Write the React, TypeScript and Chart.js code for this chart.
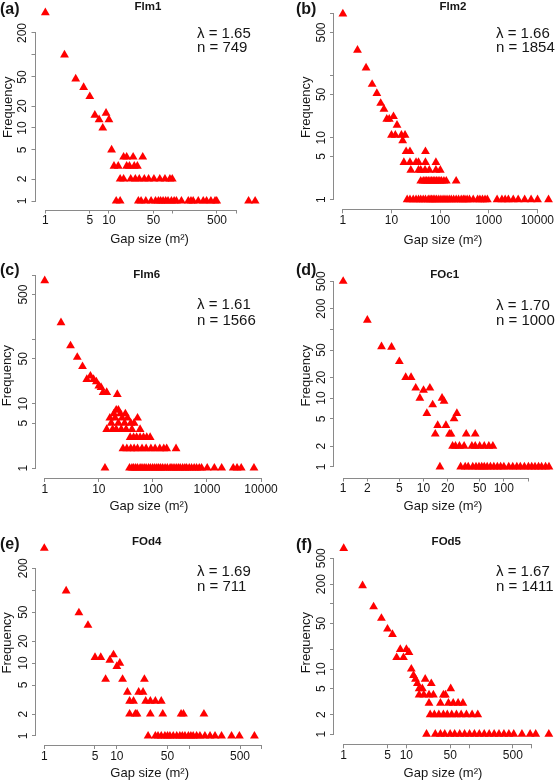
import React, { useEffect, useRef } from 'react';
import { Chart, registerables } from 'chart.js';

Chart.register(...registerables);

const FONT = "'Liberation Sans', Arial, Helvetica, sans-serif";
Chart.defaults.font.family = FONT;
const RED = '#ff0000';
const AXIS = '#8a8a8a';
const INK = '#151515';

// ---------- (a) Flm1 ----------
const flm1Size = [1, 2, 3, 4, 5, 6, 7, 8, 9, 10, 11,
  17, 19, 24, 34,
  12, 14, 19, 21, 25, 28,
  15, 17, 22, 26, 30, 36, 42, 51, 63, 76, 91, 99,
  13, 15, 29, 32, 38, 46, 54, 60, 65, 71, 78, 85, 96, 106, 115, 138, 177, 195, 211, 254, 304, 343, 401, 466, 495, 1570, 1990];
const flm1Freq = [380, 100, 47, 36, 27, 15, 13, 10, 16, 13, 5,
  4, 4, 4, 4,
  3, 3, 3, 3, 3, 3,
  2, 2, 2, 2, 2, 2, 2, 2, 2, 2, 2, 2,
  1, 1, 1, 1, 1, 1, 1, 1, 1, 1, 1, 1, 1, 1, 1, 1, 1, 1, 1, 1, 1, 1, 1, 1, 1, 1, 1];

// ---------- (b) Flm2 ----------
const flm2Size = [1, 2, 3, 4, 5, 6, 7, 8, 9, 11, 10, 12, 13, 16, 19, 17,
  20, 24, 50,
  18, 24, 32, 36, 50, 82,
  25, 36, 40, 49, 60, 82, 101,
  40, 45, 49, 53, 57, 62, 67, 72, 78, 84, 91, 99, 107, 120, 134, 214,
  21, 24, 28, 32, 36, 40, 45, 50, 57, 62, 67, 72, 78, 85, 94, 104, 115, 126, 139, 154, 170, 190, 214, 240, 272,
  300, 325, 360, 402, 480, 592, 660, 745, 840, 937, 1487, 1870, 2180, 2540, 3200, 4040, 5490, 7450, 10100, 17000];
const flm2Freq = [1000, 259, 134, 73, 52, 36, 29, 20, 20, 22, 11, 11, 16, 11, 11, 9,
  6, 6, 6,
  4, 4, 4, 4, 4, 4,
  3, 3, 3, 3, 3, 3, 3,
  2, 2, 2, 2, 2, 2, 2, 2, 2, 2, 2, 2, 2, 2, 2, 2,
  1, 1, 1, 1, 1, 1, 1, 1, 1, 1, 1, 1, 1, 1, 1, 1, 1, 1, 1, 1, 1, 1, 1, 1, 1,
  1, 1, 1, 1, 1, 1, 1, 1, 1, 1, 1, 1, 1, 1, 1, 1, 1, 1, 1, 1];

// ---------- (c) Flm6 ----------
const flm6Size = [1, 2, 3, 4, 5, 6, 7, 8, 9, 10, 11, 12, 14, 22,
  21, 23,
  19, 25, 31,
  16, 20, 27, 34, 52,
  17, 23, 30, 39, 45,
  14, 18, 21, 26, 32, 41, 58,
  38, 44, 50, 58, 67, 77, 89,
  28, 33, 39, 45, 52, 63, 75, 92, 110, 134, 159, 180, 268,
  13, 37, 41, 44, 48, 52, 58, 63, 69, 75, 83, 90, 99, 108, 118, 128, 139, 152, 168, 185, 208,
  225, 246, 270, 295, 320, 355, 390, 421, 470, 519, 580, 642, 720, 794, 1010, 1370, 1870, 3060, 3600, 4300, 7390];
const flm6Freq = [822, 183, 80, 53, 38, 24, 27, 24, 22, 19, 18, 15, 15, 14,
  8, 8,
  7, 7, 7,
  6, 6, 6, 6, 6,
  5, 5, 5, 5, 5,
  4, 4, 4, 4, 4, 4, 4,
  3, 3, 3, 3, 3, 3, 3,
  2, 2, 2, 2, 2, 2, 2, 2, 2, 2, 2, 2, 2,
  1, 1, 1, 1, 1, 1, 1, 1, 1, 1, 1, 1, 1, 1, 1, 1, 1, 1, 1, 1, 1,
  1, 1, 1, 1, 1, 1, 1, 1, 1, 1, 1, 1, 1, 1, 1, 1, 1, 1, 1, 1, 1];

// ---------- (d) FOc1 ----------
const foc1Size = [1, 2, 3, 4, 5, 6, 7, 8, 9, 10, 12, 11, 13, 14, 15, 17, 18, 19, 21, 22, 24, 26, 34, 44,
  23, 25, 28, 32, 40, 44, 50, 57, 65, 73,
  16, 29, 33, 36, 41, 45, 49, 53, 57, 62, 68, 75, 83, 91, 100, 115, 129, 145, 160, 180, 202, 222, 244, 270, 295, 330, 364];
const foc1Freq = [500, 136, 56, 55, 34, 20, 20, 14, 10, 13, 14, 6, 8, 3, 4, 10, 9, 4, 3, 3, 5, 6, 3, 3,
  2, 2, 2, 2, 2, 2, 2, 2, 2, 2,
  1, 1, 1, 1, 1, 1, 1, 1, 1, 1, 1, 1, 1, 1, 1, 1, 1, 1, 1, 1, 1, 1, 1, 1, 1, 1, 1];

// ---------- (e) FOd4 ----------
const fod4Size = [1, 2, 3, 4, 5, 6, 7, 8, 9, 10, 11, 12,
  14, 15, 17, 20, 23, 24, 25, 29, 34, 41,
  15, 18, 19, 29, 43, 77, 83, 159,
  27, 34, 37, 41, 46, 50, 54, 60, 67, 74, 80, 87, 97, 105, 113, 126, 140, 164, 193, 226, 278, 382, 490, 790];
const fod4Freq = [376, 98, 49, 33, 12, 12, 6, 11, 13, 9, 10, 6,
  4, 3, 3, 4, 4, 6, 3, 3, 3, 3,
  2, 2, 2, 2, 2, 2, 2, 2,
  1, 1, 1, 1, 1, 1, 1, 1, 1, 1, 1, 1, 1, 1, 1, 1, 1, 1, 1, 1, 1, 1, 1, 1];

// ---------- (f) FOd5 ----------
const fod5Size = [1, 2, 3, 4, 5, 6, 7, 8, 9, 10, 11, 12, 13, 14, 15,
  16, 18, 16, 19, 20, 23, 25, 27, 23, 35, 39, 42, 51, 47, 56, 67, 80,
  24, 28, 33, 39, 45, 53, 63, 75, 91, 112, 138,
  21, 29, 35, 41, 50, 59, 71, 85, 102, 122, 146, 175, 210, 252, 301, 361, 433, 518, 700, 946, 1161, 1880];
const fod5Freq = [710, 190, 90, 60, 41, 34, 15, 20, 15, 20, 18, 10, 8, 7, 6,
  5, 5, 4, 4, 7, 4, 6, 4, 3, 3, 4, 4, 5, 3, 3, 3, 3,
  2, 2, 2, 2, 2, 2, 2, 2, 2, 2, 2,
  1, 1, 1, 1, 1, 1, 1, 1, 1, 1, 1, 1, 1, 1, 1, 1, 1, 1, 1, 1, 1, 1];

// ---------- tick values / labels ----------
const xTicksA = [1, 5, 10, 50, 100, 500, 1000];
const xLabelsA = [1, 5, 10, 50, 500];
const yTicksA = [1, 2, 5, 10, 20, 50, 100, 200];
const yLabelsA = [1, 2, 5, 10, 20, 50, 200];
const xTicksB = [1, 10, 100, 1000, 10000];
const xLabelsB = [1, 10, 100, 1000, 10000];
const yTicksB = [1, 5, 10, 50, 100, 500, 1000];
const yLabelsB = [1, 5, 10, 50, 500];
const xTicksC = [1, 10, 100, 1000, 10000];
const xLabelsC = [1, 10, 100, 1000, 10000];
const yTicksC = [1, 5, 10, 50, 100, 500, 1000];
const yLabelsC = [1, 5, 10, 50, 500];
const xTicksD = [1, 2, 5, 10, 20, 50, 100, 200];
const xLabelsD = [1, 2, 5, 10, 20, 50, 100];
const yTicksD = [1, 2, 5, 10, 20, 50, 100, 200, 500];
const yLabelsD = [1, 2, 5, 10, 20, 50, 200, 500];
const xTicksE = [1, 5, 10, 50, 100, 500, 1000];
const xLabelsE = [1, 5, 10, 50, 500];
const yTicksE = [1, 2, 5, 10, 20, 50, 100, 200];
const yLabelsE = [1, 2, 5, 10, 20, 50, 200];
const xTicksF = [1, 5, 10, 50, 100, 500, 1000];
const xLabelsF = [1, 5, 10, 50, 500];
const yTicksF = [1, 2, 5, 10, 20, 50, 100, 200, 500];
const yLabelsF = [1, 2, 5, 10, 50, 200, 500];

const panelTitles = ['Flm1', 'Flm2', 'Flm6', 'FOc1', 'FOd4', 'FOd5'];
const panelLetters = ['(a)', '(b)', '(c)', '(d)', '(e)', '(f)'];
const lambdas = ['1.65', '1.66', '1.61', '1.70', '1.69', '1.67'];
const counts = ['749', '1854', '1566', '1000', '711', '1411'];

type Panel = {
  sizes: number[]; freqs: number[];
  xTicks: number[]; xLabels: number[]; yTicks: number[]; yLabels: number[];
  xMin: number; xMax: number; yMin: number; yMax: number;
  canvas: { x: number; y: number; w: number; h: number };
  plot: { l: number; t: number; r: number; b: number };
  letterPos: [number, number]; titlePos: [number, number]; statsPos: [number, number, number];
  yTitleX: number; xTitleY: number;
};

const PANELS: Panel[] = [
  {
    sizes: flm1Size, freqs: flm1Freq, xTicks: xTicksA, xLabels: xLabelsA, yTicks: yTicksA, yLabels: yLabelsA,
    xMin: 0.738, xMax: 2704, yMin: 0.765, yMax: 482,
    canvas: { x: 0, y: 0, w: 278, h: 258 }, plot: { l: 35.5, t: 5.1, r: 263.6, b: 209.5 },
    letterPos: [0, 10], titlePos: [148, 7], statsPos: [197, 33.5, 47.7], yTitleX: 8, xTitleY: 239.5,
  },
  {
    sizes: flm2Size, freqs: flm2Freq, xTicks: xTicksB, xLabels: xLabelsB, yTicks: yTicksB, yLabels: yLabelsB,
    xMin: 0.657, xMax: 19950, yMin: 0.737, yMax: 1384,
    canvas: { x: 278, y: 0, w: 279, h: 258 }, plot: { l: 334, t: 4, r: 555, b: 209.3 },
    letterPos: [296, 10], titlePos: [453, 7], statsPos: [496, 33.5, 47.7], yTitleX: 306.3, xTitleY: 240,
  },
  {
    sizes: flm6Size, freqs: flm6Freq, xTicks: xTicksC, xLabels: xLabelsC, yTicks: yTicksC, yLabels: yLabelsC,
    xMin: 0.69, xMax: 10280, yMin: 0.745, yMax: 1076,
    canvas: { x: 0, y: 258, w: 278, h: 262 }, plot: { l: 36, t: 273.2, r: 261.7, b: 478 },
    letterPos: [0, 271], titlePos: [146.7, 274.7], statsPos: [197, 305, 320.7], yTitleX: 7.5, xTitleY: 506.3,
  },
  {
    sizes: foc1Size, freqs: foc1Freq, xTicks: xTicksD, xLabels: xLabelsD, yTicks: yTicksD, yLabels: yLabelsD,
    xMin: 0.769, xMax: 396, yMin: 0.747, yMax: 641,
    canvas: { x: 278, y: 258, w: 279, h: 262 }, plot: { l: 334, t: 273.9, r: 555, b: 477.5 },
    letterPos: [296, 271], titlePos: [444.7, 274.7], statsPos: [496, 306.3, 321.3], yTitleX: 306.3, xTitleY: 506.3,
  },
  {
    sizes: fod4Size, freqs: fod4Freq, xTicks: xTicksE, xLabels: xLabelsE, yTicks: yTicksE, yLabels: yLabelsE,
    xMin: 0.768, xMax: 1047, yMin: 0.752, yMax: 478,
    canvas: { x: 0, y: 520, w: 278, h: 261 }, plot: { l: 36, t: 540.7, r: 263.3, b: 745 },
    letterPos: [0, 545], titlePos: [146.7, 541.7], statsPos: [197, 571.7, 586.7], yTitleX: 7.5, xTitleY: 773.3,
  },
  {
    sizes: fod5Size, freqs: fod5Freq, xTicks: xTicksF, xLabels: xLabelsF, yTicks: yTicksF, yLabels: yLabelsF,
    xMin: 0.715, xMax: 2105, yMin: 0.748, yMax: 920,
    canvas: { x: 278, y: 520, w: 279, h: 261 }, plot: { l: 334, t: 541, r: 555, b: 744.3 },
    letterPos: [296, 546], titlePos: [446.3, 541.7], statsPos: [496, 571.7, 586.7], yTitleX: 306.3, xTitleY: 773.3,
  },
];

const TICK_FONT = 12;
const TITLE_FONT = 13;

function PanelChart({ p, idx }: { p: Panel; idx: number }) {
  const ref = useRef<HTMLCanvasElement>(null);
  useEffect(() => {
    const c = p.canvas;
    const left = p.plot.l - c.x;
    const top = p.plot.t - c.y;
    const right = p.plot.r - c.x;
    const bottom = p.plot.b - c.y;
    const titleLH = TITLE_FONT * 1.2;

    const annotate = {
      id: 'rStyle' + idx,
      afterDraw(chart: any) {
        const ctx = chart.ctx as CanvasRenderingContext2D;
        const xs = chart.scales.x;
        const ys = chart.scales.y;
        ctx.save();
        // axis lines spanning first..last tick (R style)
        ctx.strokeStyle = AXIS;
        ctx.lineWidth = 1;
        const xt = xs.ticks;
        const yt = ys.ticks;
        const yb = Math.round(chart.chartArea.bottom) + 0.5;
        const xl = Math.round(chart.chartArea.left) - 0.5;
        ctx.beginPath();
        ctx.moveTo(xs.getPixelForValue(xt[0].value), yb);
        ctx.lineTo(xs.getPixelForValue(xt[xt.length - 1].value), yb);
        ctx.moveTo(xl, ys.getPixelForValue(yt[0].value));
        ctx.lineTo(xl, ys.getPixelForValue(yt[yt.length - 1].value));
        ctx.stroke();

        ctx.fillStyle = INK;
        ctx.textBaseline = 'middle';
        // panel letter
        ctx.font = `bold 16px ${FONT}`;
        ctx.textAlign = 'left';
        ctx.fillText(panelLetters[idx], p.letterPos[0] - c.x, p.letterPos[1] - c.y);
        // panel title
        ctx.font = `bold 11.5px ${FONT}`;
        ctx.textAlign = 'center';
        ctx.fillText(panelTitles[idx], p.titlePos[0] - c.x, p.titlePos[1] - c.y);
        // stats
        ctx.font = `15px ${FONT}`;
        ctx.textAlign = 'left';
        ctx.fillText('λ = ' + lambdas[idx], p.statsPos[0] - c.x, p.statsPos[1] - c.y);
        ctx.fillText('n = ' + counts[idx], p.statsPos[0] - c.x, p.statsPos[2] - c.y);
        ctx.restore();
      },
    };

    const chart = new Chart(ref.current as HTMLCanvasElement, {
      type: 'scatter',
      data: {
        datasets: [{
          data: p.sizes.map((s, i) => ({ x: s, y: p.freqs[i] })),
          pointStyle: 'triangle',
          pointRadius: 5.1,
          pointHoverRadius: 5.1,
          backgroundColor: RED,
          borderColor: RED,
          borderWidth: 0,
          clip: false,
        } as any],
      },
      options: {
        responsive: false,
        animation: false,
        events: [],
        layout: { padding: { left: 0, top, right: c.w - right, bottom: 0 } },
        plugins: { legend: { display: false }, tooltip: { enabled: false }, title: { display: false } },
        scales: {
          x: {
            type: 'logarithmic',
            position: 'bottom',
            min: p.xMin,
            max: p.xMax,
            afterBuildTicks: (s: any) => { s.ticks = p.xTicks.map((v) => ({ value: v })); },
            afterFit: (s: any) => { s.height = c.h - bottom; s.paddingLeft = 0; s.paddingRight = 0; s.paddingTop = 0; s.paddingBottom = 0; },
            ticks: {
              autoSkip: false, minRotation: 0, maxRotation: 0, padding: 0, color: INK,
              font: { family: FONT, size: TICK_FONT },
              callback: (v: any) => (p.xLabels.includes(Number(v)) ? String(v) : ''),
            },
            grid: { display: true, drawOnChartArea: false, drawTicks: true, tickLength: 4, color: AXIS, lineWidth: 1 },
            border: { display: false },
            title: {
              display: true, text: 'Gap size (m²)', color: INK,
              font: { family: FONT, size: TITLE_FONT },
              padding: { top: 0, bottom: c.y + c.h - p.xTitleY - titleLH / 2 },
            },
          } as any,
          y: {
            type: 'logarithmic',
            position: 'left',
            min: p.yMin,
            max: p.yMax,
            afterBuildTicks: (s: any) => { s.ticks = p.yTicks.map((v) => ({ value: v })); },
            afterFit: (s: any) => { s.width = left; s.paddingLeft = 0; s.paddingRight = 0; s.paddingTop = 0; s.paddingBottom = 0; },
            ticks: {
              autoSkip: false, minRotation: 90, maxRotation: 90, crossAlign: 'center', padding: -1.5, color: INK,
              font: { family: FONT, size: TICK_FONT },
              callback: (v: any) => (p.yLabels.includes(Number(v)) ? String(v) : ''),
            },
            grid: { display: true, drawOnChartArea: false, drawTicks: true, tickLength: 4, color: AXIS, lineWidth: 1 },
            border: { display: false },
            title: {
              display: true, text: 'Frequency', color: INK,
              font: { family: FONT, size: TITLE_FONT },
              padding: { top: p.yTitleX - c.x - titleLH / 2, bottom: 0 },
            },
          } as any,
        },
      },
      plugins: [annotate],
    });
    return () => chart.destroy();
  }, [p, idx]);

  return (
    <canvas
      ref={ref}
      width={p.canvas.w}
      height={p.canvas.h}
      style={{ position: 'absolute', left: p.canvas.x, top: p.canvas.y, width: p.canvas.w, height: p.canvas.h }}
    />
  );
}

export default function App() {
  return (
    <div style={{ position: 'absolute', left: 0, top: 0, width: 557, height: 781, overflow: 'hidden', background: '#fff' }}>
      {PANELS.map((p, i) => (
        <PanelChart key={i} p={p} idx={i} />
      ))}
    </div>
  );
}
